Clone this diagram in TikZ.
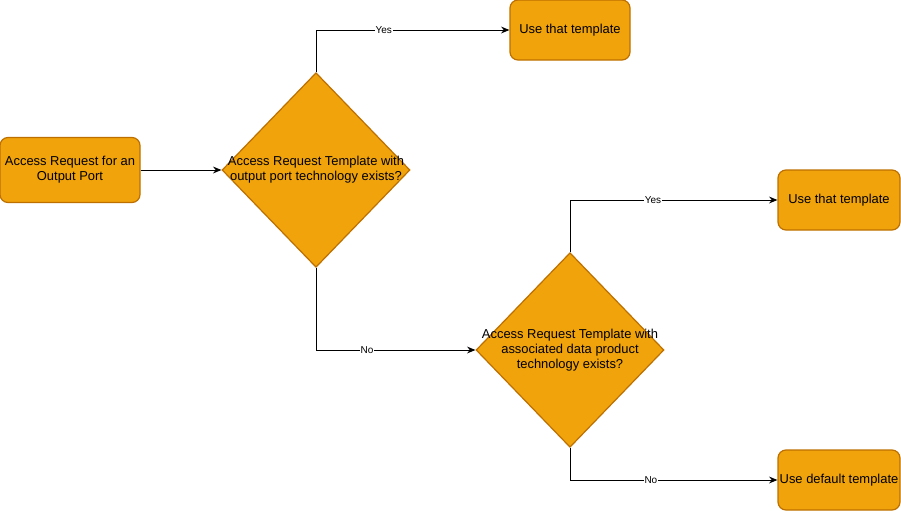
\documentclass[tikz,border=0pt]{standalone}
\usepackage{fontspec}
\setmainfont{Liberation Sans}
\usepackage{xcolor}
\usepackage{tikz}
\usetikzlibrary{arrows.meta, positioning, shapes.geometric}

\definecolor{tplfill}{HTML}{F0A30A}
\definecolor{tpldraw}{HTML}{BD7000}

\begin{document}
\begin{tikzpicture}[
        x=0.75pt, y=-0.75pt,
        block/.style={rectangle, draw=tpldraw, fill=tplfill, line width=0.9pt, rounded corners=6pt, align=center, inner sep=1pt, font=\fontsize{9.7}{11.25}\selectfont},
        decision/.style={diamond, draw=tpldraw, fill=tplfill, line width=0.9pt, minimum width=141pt, minimum height=146pt, inner sep=0pt},
        dtext/.style={align=center, font=\fontsize{9.7}{11.25}\selectfont},
        arr/.style={-{Stealth[length=2.2mm, width=1.8mm]}, line width=0.7pt},
        lbl/.style={font=\fontsize{7.5}{9}\selectfont, fill=white, inner sep=0.5pt},
    ]
        \useasboundingbox (0,0) rectangle (901,511);

        % Start and first check
        \node[block, minimum width=105pt, minimum height=48.75pt] (req) at (70,170) {Access Request for an\\Output Port};
        \node[decision] (chkport) at (316,170) {};
        \node[dtext] (chkportt) at (chkport.center) {Access Request Template with\\output port technology exists?};

        % First answer
        \node[block, minimum width=90pt, minimum height=45pt] (usefirst) at (570,30) {Use that template};

        % Second check
        \node[decision] (chkdata) at (570,350) {};
        \node[dtext] (chkdatat) at (chkdata.center) {Access Request Template with\\associated data product\\technology exists?};

        % Second answers
        \node[block, minimum width=91.5pt, minimum height=45pt] (usesecond) at (839,200) {Use that template};
        \node[block, minimum width=91.5pt, minimum height=45pt] (usedefault) at (839,480) {Use default template};

        % Arrows
        \draw[arr] (req) -- (chkport);
        \draw[arr] (chkport.north) |- node[lbl, pos=0.675] {Yes} (usefirst.west);
        \draw[arr] (chkport.south) |- node[lbl, pos=0.66] {No} (chkdata.west);
        \draw[arr] (chkdata.north) |- node[lbl, pos=0.7] {Yes} (usesecond.west);
        \draw[arr] (chkdata.south) |- node[lbl, pos=0.695] {No} (usedefault.west);
    \end{tikzpicture}
\end{document}
